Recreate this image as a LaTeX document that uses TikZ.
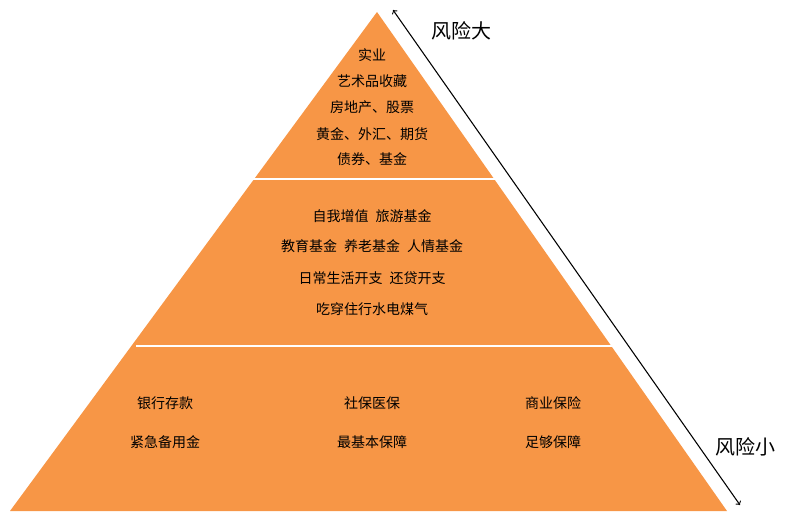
\documentclass[tikz,border=0pt]{standalone}
\usepackage{fontspec}
\setmainfont{Noto Sans CJK SC}
\definecolor{pyr}{HTML}{F79646}
\begin{document}
\begin{tikzpicture}[x=0.75pt,y=-0.75pt,
  lay/.style={font=\fontsize{10.5pt}{12pt}\selectfont,inner sep=0pt},
  big/.style={font=\fontsize{15pt}{17pt}\selectfont,inner sep=0pt}]
\useasboundingbox (0,0) rectangle (797,522);
\fill[pyr] (377,12) -- (727,511) -- (10,511) -- cycle;
\draw[white,line width=1.5pt] (252,179) -- (497,179);
\draw[white,line width=1.5pt] (136,346) -- (614,346);
\foreach \t/\y [count=\i] in {实业/55,艺术品收藏/81,房地产、股票/107,黄金、外汇、期货/134,债券、基金/159}
  \node[lay] (t\i) at (372,\y) {\t};
\foreach \t/\y [count=\i] in {自我增值\enspace 旅游基金/216,教育基金\enspace 养老基金\enspace 人情基金/246,日常生活开支\enspace 还贷开支/278,吃穿住行水电煤气/309}
  \node[lay] (m\i) at (372,\y) {\t};
\node[lay] (b1) at (165,403) {银行存款};
\node[lay] (b2) at (372,403) {社保医保};
\node[lay] (b3) at (553,403) {商业保险};
\node[lay] (b4) at (165,442) {紧急备用金};
\node[lay] (b5) at (372,442) {最基本保障};
\node[lay] (b6) at (553,442) {足够保障};
\coordinate (a1) at (393,10);
\coordinate (a2) at (740,505);
\draw[<->,line width=0.8pt] (a1) -- (a2);
\node[big] (hi) at (461,31) {风险大};
\node[big] (lo) at (745,447) {风险小};
\end{tikzpicture}
\end{document}
